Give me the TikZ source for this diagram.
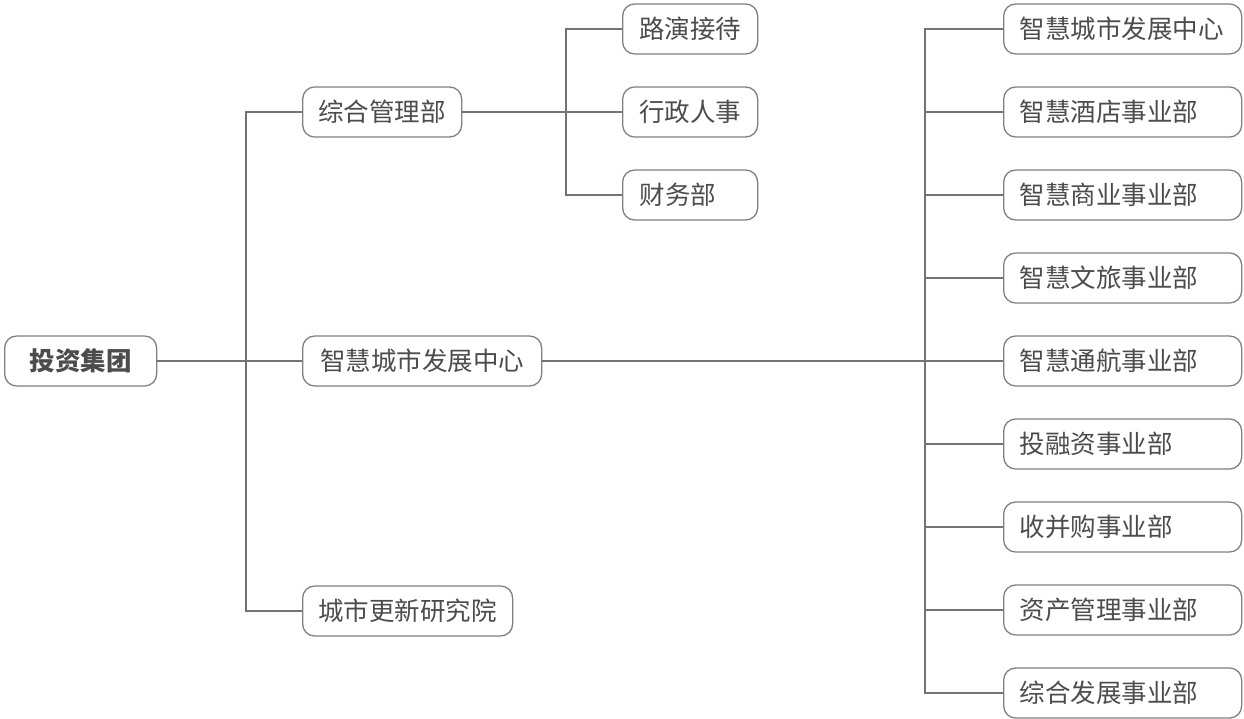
\documentclass[tikz,border=0pt]{standalone}
\usepackage{fontspec}
\setmainfont{Noto Sans CJK SC}
\begin{document}
\begin{tikzpicture}[x=1pt,y=-1pt,
  box/.style={draw=black!50,line width=1.3pt,rounded corners=12pt,minimum height=50pt,
    inner xsep=0pt,anchor=west,text=black!70,font=\fontsize{25.5}{29}\selectfont},
  link/.style={draw=black!55,line width=1.3pt}]
\useasboundingbox (0,0) rectangle (1244,719);
\node[box,minimum width=152pt,font=\fontsize{25.5}{29}\selectfont\bfseries] (root) at (4,361) {投资集团};
\node[box,minimum width=159pt] (zh) at (302,112) {综合管理部};
\node[box,minimum width=239pt] (mid) at (302,361) {智慧城市发展中心};
\node[box,minimum width=210pt] (cs) at (302,611) {城市更新研究院};
\node[box,minimum width=135pt] (t1) at (622,29) {路演接待};
\node[box,minimum width=135pt] (t2) at (622,112) {行政人事};
\node[box,minimum width=135pt,text width=135pt,align=left] (t3) at (622,195) {\hspace*{17pt}财务部};
\foreach \i/\t/\y in {1/智慧城市发展中心/29,2/智慧酒店事业部/112,3/智慧商业事业部/195,4/智慧文旅事业部/278,5/智慧通航事业部/361,6/投融资事业部/444,7/收并购事业部/527,8/资产管理事业部/610,9/综合发展事业部/693}
  \node[box,minimum width=238pt,text width=238pt,align=left] (r\i) at (1003,\y) {\hspace*{16pt}\t};
\coordinate (j1) at (246,361);
\coordinate (j2) at (566,112);
\coordinate (j3) at (925,361);
\draw[link] (root.east) -- (j1);
\draw[link] (mid.west) -- (j1);
\draw[link] (zh.west) -| (j1);
\draw[link] (cs.west) -| (j1);
\draw[link] (zh.east) -- (j2);
\draw[link] (t2.west) -- (j2);
\draw[link] (t1.west) -| (j2);
\draw[link] (t3.west) -| (j2);
\draw[link] (mid.east) -- (j3);
\foreach \i in {1,...,9} \draw[link] (r\i.west) -| (j3);
\end{tikzpicture}
\end{document}
